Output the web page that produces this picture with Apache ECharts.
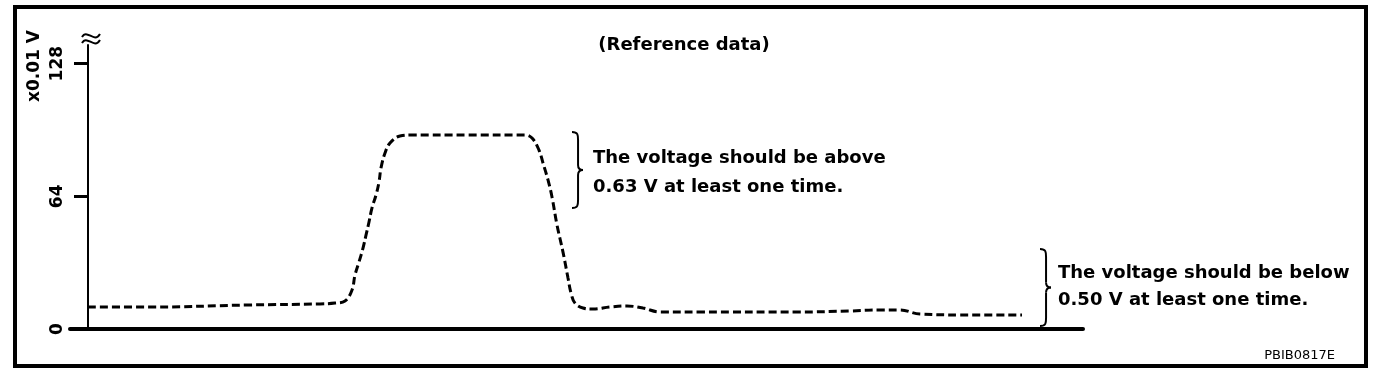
<!DOCTYPE html>
<html>
<head>
<meta charset="utf-8">
<script src="https://cdn.jsdelivr.net/npm/echarts@6/dist/echarts.min.js"></script>
<style>
html,body{margin:0;padding:0;background:#fff;}
#chart{width:1392px;height:372px;}
</style>
</head>
<body>
<div id="chart"></div>
<script>
// time axis (arbitrary units) and voltage values (x0.01 V)
var timeValues = [0, 62, 162, 232, 247, 257, 264, 267, 271, 275, 278, 281, 284, 288, 291, 293, 297, 302, 312, 324, 380, 437, 444, 451, 455, 460, 464, 469, 475, 480, 483, 487, 495, 505, 522, 539, 555, 572, 612, 712, 762, 792, 812, 832, 872, 934];
var voltageValues = [10.6, 10.6, 11.6, 12.1, 12.5, 13.5, 18.8, 26, 32.3, 39, 45.3, 51.6, 58.4, 64.6, 70.9, 77.7, 84.9, 89.7, 93.1, 93.6, 93.6, 93.6, 92.1, 86.3, 80.1, 71.9, 63.7, 50.2, 37.1, 24.6, 17.4, 12.5, 10.1, 9.6, 10.6, 11.1, 10.1, 8.2, 8.2, 8.2, 8.7, 9.2, 9.2, 7.2, 6.8, 6.8];
var yTickValues = [0, 64, 128];
var yAxisName = 'x0.01 V';
var titleText = '(Reference data)';
var noteAbove = ['The voltage should be above', '0.63 V at least one time.'];
var noteBelow = ['The voltage should be below', '0.50 V at least one time.'];
var figureCode = 'PBIB0817E';

var seriesData = timeValues.map(function (t, i) { return [t, voltageValues[i]]; });
var FONT = 'DejaVu Sans';

// right curly brace made of cubic curves: left x, top y, bottom y, width
function brace(x, top, bottom, w) {
  var mid = (top + bottom) / 2;
  var st = { fill: 'none', stroke: '#000', lineWidth: 2 };
  var xm = x + w * 0.55, xt = x + w;
  return [
    { type: 'bezierCurve', shape: { x1: x, y1: top, x2: xm, y2: top + 8, cpx1: xm, cpy1: top, cpx2: xm, cpy2: top + 3 }, style: st },
    { type: 'line', shape: { x1: xm, y1: top + 8, x2: xm, y2: mid - 5 }, style: st },
    { type: 'bezierCurve', shape: { x1: xm, y1: mid - 5, x2: xt, y2: mid, cpx1: xm, cpy1: mid - 1, cpx2: xm + 2, cpy2: mid }, style: st },
    { type: 'bezierCurve', shape: { x1: xt, y1: mid, x2: xm, y2: mid + 5, cpx1: xm + 2, cpy1: mid, cpx2: xm, cpy2: mid + 1 }, style: st },
    { type: 'line', shape: { x1: xm, y1: mid + 5, x2: xm, y2: bottom - 8 }, style: st },
    { type: 'bezierCurve', shape: { x1: xm, y1: bottom - 8, x2: x, y2: bottom, cpx1: xm, cpy1: bottom - 3, cpx2: xm, cpy2: bottom }, style: st }
  ];
}

var graphics = [
  { type: 'rect', shape: { x: 15, y: 7, width: 1351, height: 359 }, style: { fill: 'none', stroke: '#000', lineWidth: 4 }, silent: true },
  { type: 'text', x: 35, y: 66, rotation: Math.PI / 2, style: { text: yAxisName, fill: '#000', font: 'bold 17px ' + FONT, align: 'center', verticalAlign: 'middle' } },
  { type: 'bezierCurve', shape: { x1: 82, y1: 37, x2: 100, y2: 34, cpx1: 87, cpy1: 28, cpx2: 94, cpy2: 44 }, style: { fill: 'none', stroke: '#000', lineWidth: 2 } },
  { type: 'bezierCurve', shape: { x1: 82, y1: 43, x2: 100, y2: 40, cpx1: 87, cpy1: 34, cpx2: 94, cpy2: 50 }, style: { fill: 'none', stroke: '#000', lineWidth: 2 } },
  { type: 'text', x: 684, y: 45, style: { text: titleText, fill: '#000', font: 'bold 18px ' + FONT, align: 'center', verticalAlign: 'middle' } },
  { type: 'text', x: 593, y: 158, style: { text: noteAbove[0], fill: '#000', font: 'bold 18px ' + FONT, align: 'left', verticalAlign: 'middle' } },
  { type: 'text', x: 593, y: 187, style: { text: noteAbove[1], fill: '#000', font: 'bold 18px ' + FONT, align: 'left', verticalAlign: 'middle' } },
  { type: 'text', x: 1058, y: 273, style: { text: noteBelow[0], fill: '#000', font: 'bold 18px ' + FONT, align: 'left', verticalAlign: 'middle' } },
  { type: 'text', x: 1058, y: 300, style: { text: noteBelow[1], fill: '#000', font: 'bold 18px ' + FONT, align: 'left', verticalAlign: 'middle' } },
  { type: 'text', x: 1335, y: 356, style: { text: figureCode, fill: '#000', font: '13px ' + FONT, align: 'right', verticalAlign: 'middle' } }
].concat(brace(572, 132, 208, 11), brace(1040, 249, 326, 11));

var chart = echarts.init(document.getElementById('chart'));
chart.setOption({
  backgroundColor: '#fff',
  animation: false,
  grid: { left: 70, right: 309, top: 45, bottom: 43 },
  xAxis: {
    type: 'value', min: -18, max: 995,
    axisLine: { show: true, onZero: true, lineStyle: { color: '#000', width: 4 } },
    axisTick: { show: false }, axisLabel: { show: false }, splitLine: { show: false }
  },
  yAxis: {
    type: 'value', min: 0, max: 137, interval: 64,
    axisLine: { show: true, onZero: true, lineStyle: { color: '#000', width: 2 } },
    axisTick: { show: true, length: 14, customValues: yTickValues, lineStyle: { color: '#000', width: 3 } },
    axisLabel: { show: true, rotate: 90, margin: 4, customValues: yTickValues, color: '#000', fontFamily: FONT, fontWeight: 'bold', fontSize: 17 },
    splitLine: { show: false }
  },
  series: [{
    type: 'line',
    data: seriesData,
    showSymbol: false,
    smooth: 0.4,
    lineStyle: { color: '#000', width: 3, type: [8, 4] }
  }],
  graphic: graphics
});
</script>
</body>
</html>
